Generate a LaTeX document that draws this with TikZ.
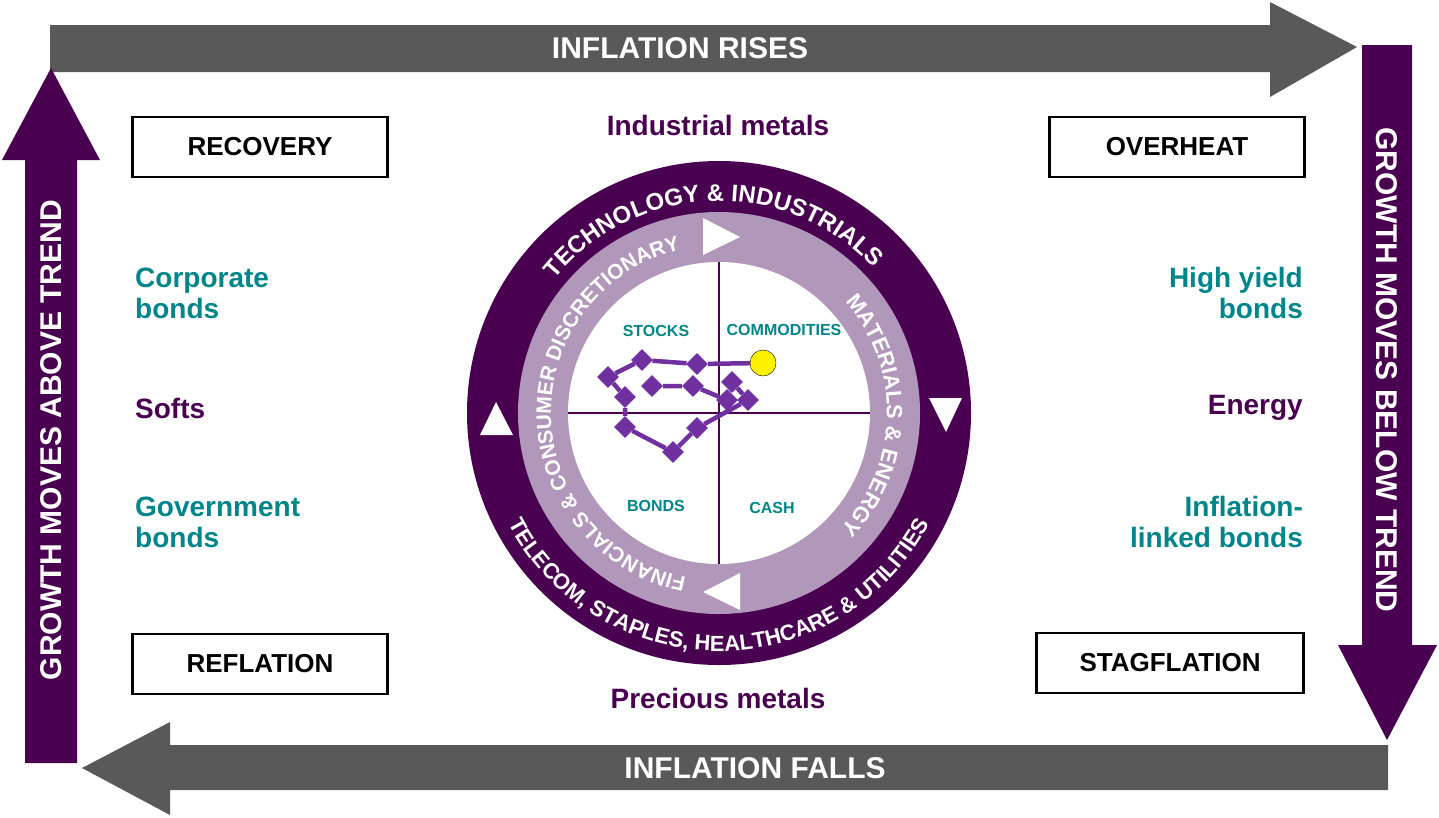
\documentclass[tikz,border=0pt]{standalone}
\usepackage{fontspec}
\setmainfont{Liberation Sans}
\usetikzlibrary{shapes.geometric,decorations.text}

\definecolor{dpurple}{HTML}{4A0050}
\definecolor{lpurple}{HTML}{B197BA}
\definecolor{tealc}{HTML}{00858A}
\definecolor{greyc}{HTML}{595959}
\definecolor{pathc}{HTML}{7030A0}

\def\rOut{252}
\def\rMid{201}
\def\rIn{151}

\tikzset{
  phase/.style={draw=black, line width=2.5pt, fill=white, minimum width=255pt, minimum height=60pt,
                font=\bfseries\fontsize{26}{26}\selectfont},
  asset/.style={font=\bfseries\fontsize{28}{31}\selectfont, text=tealc, inner sep=0pt},
  commod/.style={font=\bfseries\fontsize{28}{31}\selectfont, text=dpurple, inner sep=0pt},
  quad/.style={font=\bfseries\fontsize{16}{16}\selectfont, text=tealc},
  bigtext/.style={font=\bfseries\fontsize{30}{30}\selectfont, text=white},
  dot/.style={shape=diamond, fill=pathc, inner sep=0pt, minimum size=22pt},
}

\begin{document}
\begin{tikzpicture}[x=1pt,y=1pt]
  \useasboundingbox (0,0) rectangle (1439,-817);

  %% big arrows
  \fill[greyc] (50,-25) -- (1270,-25) -- (1270,-2) -- (1357,-47) -- (1270,-97) -- (1270,-72) -- (50,-72) -- cycle;
  \fill[greyc] (1388,-745) -- (170,-745) -- (170,-722) -- (82,-768) -- (170,-815) -- (170,-790) -- (1388,-790) -- cycle;
  \fill[dpurple] (25,-763) -- (25,-160) -- (2,-160) -- (51,-68) -- (100,-160) -- (77,-160) -- (77,-763) -- cycle;
  \fill[dpurple] (1362,-45) -- (1362,-645) -- (1338,-645) -- (1387,-740) -- (1437,-645) -- (1412,-645) -- (1412,-45) -- cycle;

  \node[bigtext] (rises) at (680,-48) {INFLATION RISES};
  \node[bigtext] (falls) at (755,-768) {INFLATION FALLS};
  \node[bigtext, rotate=90] (above) at (51,-440) {GROWTH MOVES ABOVE TREND};
  \node[bigtext, rotate=-90] (below) at (1387,-370) {GROWTH MOVES BELOW TREND};

  %% phases
  \node[phase] (recovery) at (260,-147) {RECOVERY};
  \node[phase] (overheat) at (1177,-147) {OVERHEAT};
  \node[phase] (reflation) at (260,-664) {REFLATION};
  \node[phase, minimum width=267pt] (stagflation) at (1170,-663) {STAGFLATION};

  %% assets
  \node[commod] (indmet) at (718,-125) {Industrial metals};
  \node[commod] (premet) at (718,-698) {Precious metals};
  \node[asset, anchor=west, align=left] (corp) at (135,-293) {Corporate\\bonds};
  \node[commod, anchor=west] (softs) at (135,-408) {Softs};
  \node[asset, anchor=west, align=left] (gov) at (135,-522) {Government\\bonds};
  \node[asset, anchor=east, align=right] (hy) at (1303,-293) {High yield\\bonds};
  \node[commod, anchor=east] (energy) at (1303,-408) {Energy};
  \node[asset, anchor=east, align=right] (ilb) at (1303,-522) {Inflation-\\linked bonds};

  %% clock
  \coordinate (C) at (719,-413);
  \fill[dpurple] (C) circle[radius=\rOut];
  \fill[lpurple] (C) circle[radius=\rMid];
  \fill[white] (C) circle[radius=\rIn];

  \path[decorate, decoration={text along path, text align=center,
        text={|\bfseries\fontsize{24}{24}\selectfont\color{white}|TECHNOLOGY {\&} INDUSTRIALS}}]
        (C) ++(142:212) arc[start angle=142, end angle=42, radius=212];
  \path[decorate, decoration={text along path, text align=center,
        text={|\bfseries\fontsize{22}{22}\selectfont\color{white}|TELECOM, STAPLES, HEALTHCARE {\&} UTILITIES}}]
        (C) ++(197:238) arc[start angle=197, end angle=343, radius=238];
  \path[decorate, decoration={text along path, text align=center,
        text={|\bfseries\fontsize{21}{21}\selectfont\color{white}|FINANCIALS {\&} CONSUMER DISCRETIONARY}}]
        (C) ++(264:168) arc[start angle=264, end angle=98, radius=168];
  \path[decorate, decoration={text along path, text align=center,
        text={|\bfseries\fontsize{22}{22}\selectfont\color{white}|MATERIALS {\&} ENERGY}}]
        (C) ++(44:168) arc[start angle=44, end angle=-46, radius=168];

  \fill[white] (703,-218) -- (740,-237) -- (703,-255) -- cycle;
  \fill[white] (740,-573) -- (703,-592) -- (740,-610) -- cycle;
  \fill[white] (480,-435) -- (496,-402) -- (513,-435) -- cycle;
  \fill[white] (929,-398) -- (962,-398) -- (946,-432) -- cycle;

  \coordinate (axL) at (568,-413);
  \coordinate (axR) at (870,-413);
  \coordinate (axT) at (719,-262);
  \coordinate (axB) at (719,-564);
  \draw[dpurple, line width=2.5pt] (axL) -- (axR);
  \draw[dpurple, line width=2.5pt] (axT) -- (axB);

  \node[quad] (stocks) at (656,-331) {STOCKS};
  \node[quad] (commodities) at (784,-330) {COMMODITIES};
  \node[quad] (bonds) at (656,-506) {BONDS};
  \node[quad] (cash) at (772,-508) {CASH};

  %% path of the cycle
  \foreach \n/\x/\y in {1/652/386, 2/693/386, 3/727/400, 4/732/382, 5/748/400, 6/697/428,
                        7/673/452, 8/625/427, 9/625/397, 10/608/377, 11/642/360, 12/697/364}
    \node[dot] (p\n) at (\x,-\y) {};
  \node[shape=circle, draw=black, fill=yellow, minimum size=26pt, inner sep=0pt] (now) at (763,-363) {};
  \draw[pathc, line width=4.5pt] (p1) -- (p2) -- (p3) -- (p4) -- (p5) -- (p6) -- (p7) -- (p8)
        -- (p9) -- (p10) -- (p11) -- (p12) -- (now);
\end{tikzpicture}
\end{document}
